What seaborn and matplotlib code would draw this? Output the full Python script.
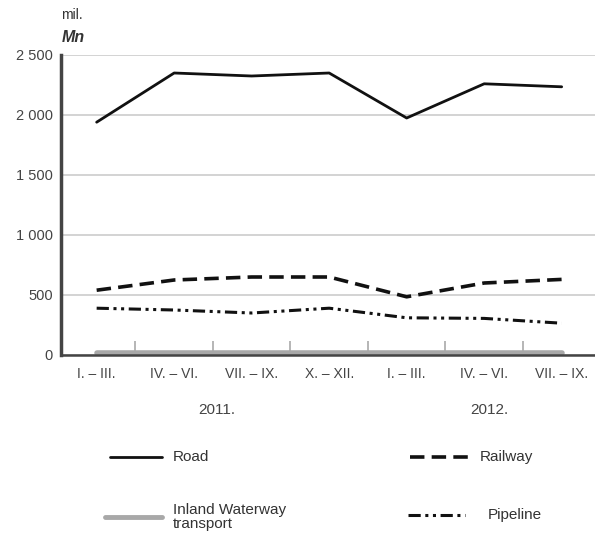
import matplotlib
matplotlib.use("Agg")
import matplotlib.pyplot as plt
from matplotlib.lines import Line2D
import seaborn as sns
import numpy as np
import pandas as pd

quarters = ["I. – III.", "IV. – VI.", "VII. – IX.", "X. – XII.", "I. – III.", "IV. – VI.", "VII. – IX."]
years = ["2011.", "2012."]
road = [1940, 2350, 2325, 2350, 1975, 2260, 2235]
railway = [540, 625, 650, 650, 485, 600, 630]
pipeline = [390, 375, 350, 390, 310, 305, 265]
waterway = [20, 20, 20, 20, 20, 20, 20]
yticks = [0, 500, 1000, 1500, 2000, 2500]
ytick_labels = ["0", "500", "1 000", "1 500", "2 000", "2 500"]

sns.set_theme(style="white")
plt.rcParams['font.family'] = ['Liberation Sans', 'DejaVu Sans']

fig = plt.figure(figsize=(5.95, 5.39), dpi=100)
ax = fig.add_axes([61/595, 1-355/539, 1-61/595, 300/539])

idx = np.arange(len(quarters))
df = pd.DataFrame({"q": idx, "Road": road, "Railway": railway,
                   "Pipeline": pipeline, "Inland Waterway transport": waterway})

sns.lineplot(data=df, x="q", y="Inland Waterway transport", ax=ax, color="#a8a8a8", lw=4, zorder=2)
sns.lineplot(data=df, x="q", y="Pipeline", ax=ax, color="#111111", lw=2.2, zorder=3)
ax.lines[-1].set_dashes([4, 1.5, 1, 1.5, 1, 1.5])
sns.lineplot(data=df, x="q", y="Railway", ax=ax, color="#111111", lw=2.6, zorder=3)
ax.lines[-1].set_dashes([4, 2])
sns.lineplot(data=df, x="q", y="Road", ax=ax, color="#111111", lw=2.0, zorder=3)

ax.set_xlim(-0.46, 6.43)
ax.set_ylim(0, 2500)
ax.set_yticks(yticks)
ax.set_yticklabels(ytick_labels, fontsize=10.5, color="#444444")
ax.set_xticks(idx)
ax.set_xticklabels(quarters, fontsize=10, color="#444444")
ax.set_xticks(np.arange(0.5, 6, 1), minor=True)
ax.tick_params(axis="x", which="major", length=0, pad=9, bottom=True)
ax.tick_params(axis="x", which="minor", length=10, direction="in", color="#b0b0b0", width=1.3, bottom=True)
ax.tick_params(axis="y", length=0, pad=6)
ax.set_xlabel("")
ax.set_ylabel("")
ax.grid(axis="y", color="#cccccc", lw=1.2)
ax.set_axisbelow(True)
for s in ["top", "right"]:
    ax.spines[s].set_visible(False)
ax.spines["left"].set_color("#444444")
ax.spines["left"].set_linewidth(2.5)
ax.spines["bottom"].set_color("#444444")
ax.spines["bottom"].set_linewidth(1.8)

ax.text(1.55, -0.185, years[0], transform=ax.get_xaxis_transform(), ha="center", va="center", fontsize=11, color="#444444")
ax.text(5.07, -0.185, years[1], transform=ax.get_xaxis_transform(), ha="center", va="center", fontsize=11, color="#444444")

fig.text(72/595, 1-15/539, "mil.", fontsize=10, color="#333333", ha="center", va="center")
fig.text(73/595, 1-37/539, "Mn", fontsize=11.5, color="#333333", ha="center", va="center", style="italic", weight="bold")

def leg(x0, x1, y, label, tx, color, lw, dashes=None):
    ln = Line2D([x0/595, x1/595], [1-y/539, 1-y/539], transform=fig.transFigure, color=color, lw=lw)
    if dashes:
        ln.set_dashes(dashes)
    fig.add_artist(ln)
    fig.text(tx/595, 1-y/539, label, fontsize=11, color="#333333", va="center", ha="left", linespacing=1.0)

leg(110, 162, 457, "Road", 173, "#111111", 2.0)
leg(410, 468, 457, "Railway", 480, "#111111", 2.6, [4, 2])
leg(105, 162, 517, "Inland Waterway\ntransport", 173, "#a8a8a8", 3.5)
leg(408, 465, 515, "Pipeline", 488, "#111111", 2.2, [4, 1.5, 1, 1.5, 1, 1.5])

fig.savefig("out.png", dpi=100, facecolor="white")
